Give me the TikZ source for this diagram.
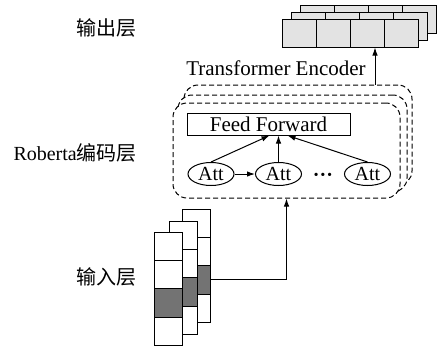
\documentclass[tikz,border=0pt]{standalone}
\usepackage{fontspec}
\setmainfont{Liberation Serif}
\newfontfamily\cjk{Noto Sans CJK SC}
\usetikzlibrary{shapes.geometric,arrows.meta}

\begin{document}
\begin{tikzpicture}[x=1pt, y=-1pt, >={Latex[length=8pt,width=5.5pt]}, line width=1pt,
  encbox/.style={draw, dash pattern=on 5pt off 3pt, rounded corners=14pt, fill=white, inner sep=0pt},
  ffbox/.style={draw, fill=white, minimum width=163pt, minimum height=22pt, inner sep=0pt},
  attnode/.style={draw, ellipse, minimum width=46pt, minimum height=23pt, inner sep=0pt},
  outcell/.style={draw, fill=gray!22, minimum width=34pt, minimum height=28pt, inner sep=0pt},
  incell/.style={draw, line width=0.7pt, fill=white, minimum width=28pt, minimum height=28.3pt, inner sep=0pt},
  darkcell/.style={incell, fill=black!55},
  bigtext/.style={font=\fontsize{21}{24}\selectfont}]

  \fontsize{20}{22}\selectfont
  \useasboundingbox (0,0) rectangle (448,349);

  \newcommand\CW{34};
  \newcommand\CH{28.3};

  % output stack, back to front
  \foreach \k/\dx/\dy in {2/300/5, 1/291/12} {
    \foreach \i in {0,...,3}
      \node[outcell] at (\dx+\i*\CW+17, \dy+14) {};
  }
  \node[outcell] (out1) at (299, 33) {};
  \node[outcell] (out2) at (333, 33) {};
  \node[outcell] (out3) at (367, 33) {};
  \node[outcell] (out4) at (401, 33) {};

  % encoder boxes, back to front
  \node[encbox, minimum width=228pt, minimum height=100pt] (enc3) at (298, 135) {};
  \node[encbox, minimum width=229pt, minimum height=97pt] (enc2) at (292.5, 143.5) {};
  \node[encbox, minimum width=227pt, minimum height=95pt] (enc1) at (286.5, 150.5) {};

  \node[bigtext] (tfenc) at (276, 68) {Transformer Encoder};

  \node[ffbox, bigtext] (ff) at (268.5, 124) {Feed Forward};
  \node[attnode] (att1) at (211, 174) {Att};
  \node[attnode] (att2) at (278.5, 174) {Att};
  \node[attnode] (att3) at (367.5, 174) {Att};
  \node (dots) at (323, 177) {\textbf{···}};

  \draw[->] (att1) -- (att2); % att1->att2
  \draw[->] (att1.north) -- ([xshift=1pt]ff.south); % att1->ff
  \draw[->] (att2.north) -- (ff.south -| att2.north); % att2->ff
  \draw[->] (att3.north) -- ([xshift=19pt]ff.south); % att3->ff

  \draw[->] ([xshift=8pt]out3.south |- enc3.north) -- ([xshift=8pt]out3.south); % enc->out

  % input stack, back to front
  \foreach \i in {0,1,3}
    \node[incell] at (196, 209+\i*\CH+\CH/2) {};
  \node[darkcell] (inB) at (196, 209+2*\CH+\CH/2) {};
  \foreach \i in {0,1,3}
    \node[incell] at (183, 221+\i*\CH+\CH/2) {};
  \node[darkcell] (inM) at (183, 221+2*\CH+\CH/2) {};
  \foreach \i in {0,1,3}
    \node[incell] at (168, 232+\i*\CH+\CH/2) {};
  \node[darkcell] (inF) at (168, 232+2*\CH+\CH/2) {};

  \draw[->] (inB.east) -| (enc1.south); % in->enc

  % layer labels
  \node[anchor=east] (lout) at (144, 28) {\cjk 输出层};
  \node[anchor=east] (lenc) at (144, 153) {Roberta\cjk 编码层};
  \node[anchor=east] (lin) at (144, 277) {\cjk 输入层};

\end{tikzpicture}
\end{document}
